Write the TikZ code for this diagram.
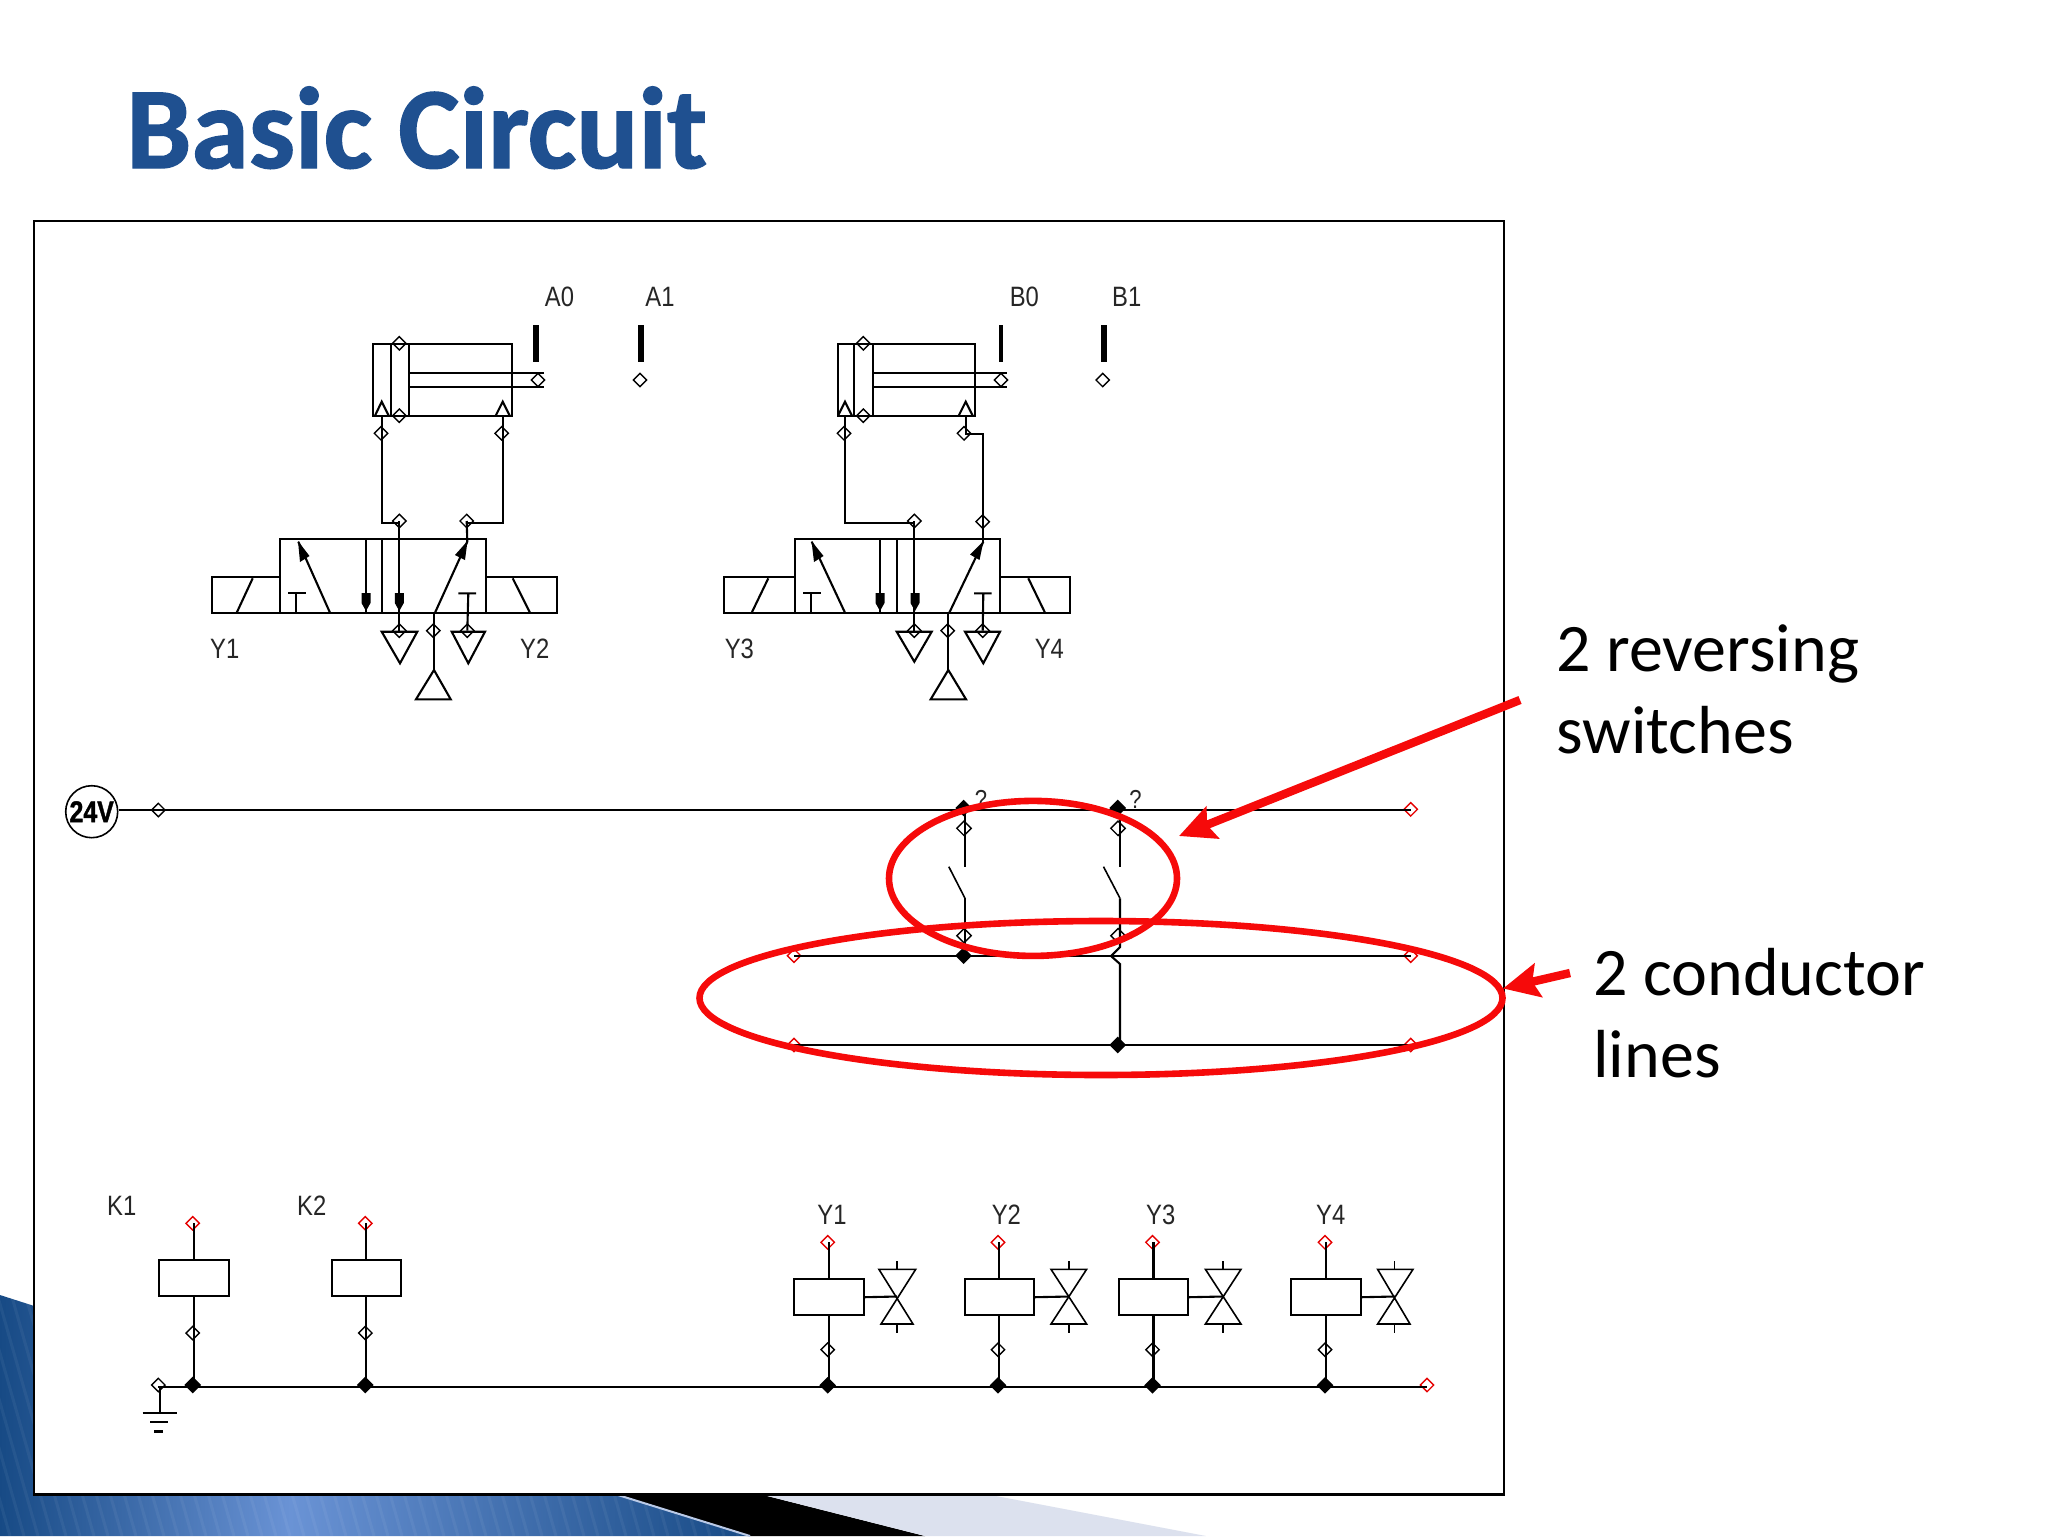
\documentclass[tikz,border=0pt]{standalone}
\usepackage{fontspec}
\usetikzlibrary{shapes.geometric,arrows.meta,calc}
\setmainfont{Liberation Sans}
\newfontfamily\carlito{Carlito}
\newfontfamily\carlitoheavy[FakeBold=1.2]{Carlito Bold}
\newfontfamily\supplyfont[FakeBold=1.5]{Liberation Sans Bold}
\definecolor{titleblue}{HTML}{1F5090}
\definecolor{navy}{HTML}{174A85}
\definecolor{midblue}{HTML}{6A93D5}
\definecolor{palegrey}{HTML}{DCE1EE}
\definecolor{redmark}{HTML}{F60A0A}
\tikzset{
  wire/.style={line width=1.05pt,black},
  port/.style={diamond,draw=black,line width=0.7pt,inner sep=0pt,minimum size=7pt},
  redport/.style={port,draw=red!90!black},
  junct/.style={diamond,fill=black,inner sep=0pt,minimum size=8.5pt},
  bar/.style={fill=black},
  lab/.style={inner sep=0pt,font=\fontsize{14}{16}\selectfont,xscale=0.85,black!85},
  coil/.style={draw=black,line width=1.05pt,inner sep=0pt,minimum width=34.6pt,minimum height=18.1pt},
  head/.style={fill=black},
  ring/.style={draw=redmark,line width=3.3pt},
  callout/.style={draw=redmark,line width=4.2pt,-{Stealth[length=18pt,width=17pt,inset=3pt]}},
  sidetext/.style={inner sep=0pt,anchor=base west,font=\carlito\fontsize{34}{41}\selectfont,black}
}
\begin{document}
\begin{tikzpicture}[x=0.5pt,y=-0.5pt]
\useasboundingbox (0,0) rectangle (2048,1536);
\fill[white] (0,0) rectangle (2048,1536);
% slide decoration
\begin{scope}
  \clip (0,1295) -- (750,1536) -- (0,1536) -- cycle;
  \shade[left color=navy,right color=midblue] (0,1290) rectangle (290,1536);
  \shade[left color=midblue,right color=navy] (290,1290) rectangle (750,1536);
  \foreach \i in {-60,-46,...,760}{
    \draw[white,opacity=0.05,line width=1.5pt] (\i,1290) -- ({\i+70},1536);
  }
\end{scope}
\fill[black] (582,1484) -- (750,1536) -- (925,1536) -- (720,1484) -- cycle;
\fill[palegrey] (720,1484) -- (925,1536) -- (1206,1536) -- (933,1484) -- cycle;
\draw[palegrey!70!midblue,line width=1pt] (618,1495) -- (750,1536);
% frame
\node[draw=black,fill=white,line width=1.1pt,inner sep=0pt,minimum width=735pt,minimum height=636.7pt,anchor=north west] (frame) at (33,220) {};
% title
\node[inner sep=0pt,anchor=base west,text=titleblue,font=\carlitoheavy\fontsize{58}{62}\selectfont] (title) at (126,168) {Basic Circuit};

% ---------- cylinder A
\draw[wire] (372.7,344) rectangle (511.7,415.7);
\draw[wire] (391,344) -- (391,415.7) (409.3,344) -- (409.3,415.7);
\draw[wire] (409.3,372.7) -- (544,372.7) (409.3,386.7) -- (544,386.7);
\draw[wire] (375,415.7) -- (381.7,401.7) -- (388.7,415.7) (495.7,415.7) -- (502.7,401.7) -- (509.7,415.7);
\node[port] (atop) at (399.3,343.3) {};
\node[port] (abot) at (399.3,415.7) {};
\node[port] (arod) at (538,380) {};
\node[port] (aend) at (640,380) {};
\fill[bar] (533.3,325) rectangle (539.3,361.7);
\fill[bar] (637.5,325) rectangle (644,361.7);
\node[lab] (lA0) at (559.5,297) {A0};
\node[lab] (lA1) at (660,297) {A1};
\node[port] (pa1) at (381,433.3) {};
\node[port] (pa2) at (501.7,433.3) {};
\node[port] (va1) at (399.3,521) {};
\node[port] (va2) at (466.7,521) {};
\draw[wire] (381.7,415.7) -- (381.7,522.7) -- (399.3,522.7);
\draw[wire] (502.7,415.7) -- (502.7,522.7) -- (466.7,522.7);
% ---------- valve A
\draw[wire] (280,539.3) rectangle (486,612.7);
\draw[wire] (382.3,539.3) -- (382.3,612.7);
\draw[wire] (280,577.3) -- (211.7,577.3) -- (211.7,612.7) -- (280,612.7);
\draw[wire] (486,577.3) -- (556.7,577.3) -- (556.7,612.7) -- (486,612.7);
\draw[wire] (236.7,612.7) -- (252.7,578.3) (512.7,578.3) -- (530,612.7);
\draw[wire] (330,612.7) -- (298.3,541.7);
\fill[head] (298,541) -- (309.5,556) -- (300,562) -- cycle;
\draw[wire] (296,612.7) -- (296,593.3) (288.3,593.3) -- (306,593.3);
\draw[wire] (366,539.3) -- (366,612.7);
\fill[head] (361.5,593) rectangle (370.5,603) (361.5,603) -- (370.5,603) -- (366,611) -- cycle;
\fill[head] (394.8,593) rectangle (403.8,603) (394.8,603) -- (403.8,603) -- (399.3,611) -- cycle;
\node[port] (ea1) at (399.3,630.7) {};
\node[port] (ea2) at (467.3,630.7) {};
\node[port] (ea0) at (433.3,630.7) {};
\draw[wire] (va1.center) -- (ea1.center);
\draw[wire] (va2.center) -- (467.3,541.7) -- (435,612.7);
\fill[head] (467.5,541) -- (465,560) -- (455,555) -- cycle;
\draw[wire] (468.3,593.3) -- (ea2.center) (458.3,593.3) -- (476,593.3);
\draw[wire] (381.7,631.7) -- (417.3,631.7) -- (400,663.3) -- cycle;
\draw[wire] (451.7,631.7) -- (485,631.7) -- (468.3,663.3) -- cycle;
\draw[wire] (434,612.7) -- (434,670);
\draw[wire] (434,670) -- (416,699.3) -- (450.7,699.3) -- cycle;
\node[lab] (lY1a) at (224.7,649) {Y1};
\node[lab] (lY2a) at (534.7,649) {Y2};

% ---------- cylinder B
\draw[wire] (837.7,344) rectangle (975,415.7);
\draw[wire] (854.3,344) -- (854.3,415.7) (872.7,344) -- (872.7,415.7);
\draw[wire] (872.7,372.7) -- (1006.7,372.7) (872.7,386.7) -- (1006.7,386.7);
\draw[wire] (838,415.7) -- (845,401.7) -- (852,415.7) (958.7,415.7) -- (965.7,401.7) -- (972.7,415.7);
\node[port] (btop) at (863.3,343.3) {};
\node[port] (bbot) at (863.3,415.7) {};
\node[port] (brod) at (1001,380) {};
\node[port] (bend) at (1102.7,380) {};
\fill[bar] (998.7,325) rectangle (1002.7,361.7);
\fill[bar] (1100.5,325) rectangle (1107,361.7);
\node[lab] (lB0) at (1024.3,297) {B0};
\node[lab] (lB1) at (1126.7,297) {B1};
\node[port] (pb1) at (964,433.3) {};
\node[port] (pb0) at (844,433.3) {};
\node[port] (vb1) at (914.3,521) {};
\node[port] (vb2) at (982.7,521.7) {};
\draw[wire] (845,415.7) -- (845,522.7) -- (914.3,522.7);
\draw[wire] (965.7,415.7) -- (965.7,434) -- (983.3,434) -- (983.3,541.7);
% ---------- valve B
\draw[wire] (795,539.3) rectangle (1000,612.7);
\draw[wire] (897.3,539.3) -- (897.3,612.7);
\draw[wire] (795,577.3) -- (724.3,577.3) -- (724.3,612.7) -- (795,612.7);
\draw[wire] (1000,577.3) -- (1070,577.3) -- (1070,612.7) -- (1000,612.7);
\draw[wire] (751.7,612.7) -- (768.3,578.3) (1028.3,578.3) -- (1045,612.7);
\draw[wire] (845,612.7) -- (811.7,541.7);
\fill[head] (811.5,541) -- (823.5,556) -- (814,562) -- cycle;
\draw[wire] (811,612.7) -- (811,593.3) (803.3,593.3) -- (820.7,593.3);
\draw[wire] (880,539.3) -- (880,612.7);
\fill[head] (875.5,593) rectangle (884.5,603) (875.5,603) -- (884.5,603) -- (880,611) -- cycle;
\fill[head] (910.5,593) rectangle (919.5,603) (910.5,603) -- (919.5,603) -- (915,611) -- cycle;
\node[port] (eb1) at (914.3,630.7) {};
\node[port] (eb2) at (982.7,630.7) {};
\node[port] (eb0) at (947.7,630.7) {};
\draw[wire] (vb1.center) -- (eb1.center);
\draw[wire] (983.3,541.7) -- (949.3,612.7);
\fill[head] (983.5,541) -- (979.5,560) -- (970,554.5) -- cycle;
\draw[wire] (983.3,593.3) -- (eb2.center) (974,593.3) -- (991.7,593.3);
\draw[wire] (896.7,631.7) -- (931.7,631.7) -- (914.3,661.7) -- cycle;
\draw[wire] (965,631.7) -- (1000,631.7) -- (983.3,663.3) -- cycle;
\draw[wire] (948.3,612.7) -- (948.3,670);
\draw[wire] (948.3,670) -- (930.7,699.3) -- (966,699.3) -- cycle;
\node[lab] (lY3a) at (739.3,649) {Y3};
\node[lab] (lY4a) at (1049.3,649) {Y4};

% ---------- supply rail
\node[circle,draw=black,line width=0.8pt,inner sep=0pt,minimum size=26pt] (sup) at (91.7,811.7) {};
\node[inner sep=0pt,xscale=0.83,font=\supplyfont\fontsize{15}{16}\selectfont] (suplab) at (91.7,811.7) {24V};
\node[port] (sp) at (158.3,810) {};
\node[redport] (se) at (1410.7,809.3) {};
\draw[wire] (sup.east |- 0,810.4) -- (1410.7,810.4);
\node[junct] (j1) at (963.6,808) {};
\node[junct] (j2) at (1117.7,808) {};
\node[lab,font=\fontsize{13}{15}\selectfont] (q1) at (981,799) {?};
\node[lab,font=\fontsize{13}{15}\selectfont] (q2) at (1135.5,799) {?};
\node[port,minimum size=7.5pt] (s1t) at (964,828.3) {};
\node[port,minimum size=7.5pt] (s2t) at (1118,828.3) {};
\node[port,minimum size=7.5pt] (s1b) at (964,935.7) {};
\node[port,minimum size=7.5pt] (s2b) at (1118,935.7) {};
\coordinate (s1a) at (965,866.7);
\coordinate (s2a) at (1120,866.7);
\coordinate (s1c) at (965,898.3);
\coordinate (s2c) at (1120,898.3);
\draw[wire] (965,810.4) -- (s1a);
\draw[wire] (1120,810.4) -- (s2a);
\draw[wire,line width=0.8pt] (948.8,866.7) -- (s1c);
\draw[wire,line width=0.8pt] (1103.5,866.7) -- (s2c);
\draw[wire] (s1c) -- (965,955.7);
\draw[wire] (s2c) -- (1120,947) -- (1111,956) -- (1120,964) -- (1120,1046);
% ---------- conductor lines
\node[redport] (c1l) at (794,955.7) {};
\node[redport] (c1r) at (1410.7,955.7) {};
\node[redport] (c2l) at (794,1045) {};
\node[redport] (c2r) at (1410.7,1045) {};
\node[junct] (j3) at (963.6,955.7) {};
\node[junct] (j4) at (1117.7,1045) {};
\draw[wire] (c1l.center) -- (c1r.center);
\draw[wire] (c2l.center) -- (c2r.center);

% ---------- bottom rail
\node[port] (gp) at (158.3,1385) {};
\node[redport] (re) at (1427,1385) {};
\draw[wire] (gp.center |- 0,1386.7) -- (1427,1386.7);
\draw[wire] (159.7,1386.7) -- (159.7,1412.7);
\draw[wire] (142.7,1412.7) -- (176.7,1412.7) (150,1422) -- (167.7,1422);
\draw[wire,line width=1.2pt] (154.3,1431.3) -- (163.3,1431.3);
% relay coils
\foreach \nm/\lbl/\bx/\dx/\lx in {k1/K1/194/192.7/121.7,k2/K2/366.3/365.3/311.7}{
  \node[redport] (\nm t) at (\dx,1223.3) {};
  \node[port] (\nm b) at (\dx,1333) {};
  \node[junct] (\nm j) at (\dx,1385) {};
  \node[coil] (\nm c) at (\bx,1278.2) {};
  \node[lab] (\nm l) at (\lx,1205.8) {\lbl};
  \draw[wire] (\nm c.north) -- (\nm c.north |- \nm t.center);
  \draw[wire] (\nm c.south) -- (\nm c.south |- 0,1386.7);
}
% solenoid coils
\foreach \nm/\lbl/\dx/\bx/\vx/\tla/\tra/\bla/\bra/\lx in {
  a/Y1/827.7/829/897/878.9/915.7/881/913/832,
  b/Y2/998/999.2/1069.2/1051/1086.6/1051/1086.6/1006.4,
  c/Y3/1152.5/1153.5/1223.2/1205.4/1241/1205.4/1241/1160.7,
  d/Y4/1325/1326/1394.5/1377.6/1413/1377.6/1410/1330.7}{
  \node[redport] (\nm t) at (\dx,1242.3) {};
  \node[port] (\nm b) at (\dx,1349.7) {};
  \node[junct] (\nm j) at (\dx,1385.3) {};
  \node[coil] (\nm c) at (\bx,1297.2) {};
  \node[lab] (\nm l) at (\lx,1215) {\lbl};
  \coordinate (\nm x) at (\vx,1296.5);
  \draw[wire] (\nm c.north) -- (\nm c.north |- \nm t.center);
  \draw[wire] (\nm c.south) -- (\nm c.south |- 0,1386.7);
  \draw[wire] (\nm c.east) -- (\nm x);
  \draw[wire,line width=0.8pt] (\tla,1269.3) -- (\tra,1269.3) -- (\bla,1324) -- (\bra,1324) -- cycle;
  \draw[wire,line width=0.8pt] (\vx,1261) -- (\vx,1269.3) (\vx,1324) -- (\vx,1333);
}
% ---------- red annotations
\node[ellipse,ring,inner sep=0pt,minimum width=401.5pt,minimum height=77pt] (big) at (1101,998) {};
\node[ellipse,ring,inner sep=0pt,minimum width=144pt,minimum height=77.5pt] (small) at (1033,878.4) {};
\coordinate (t1) at (1520,700);
\coordinate (h1) at (1179,836);
\coordinate (t2) at (1570,973);
\coordinate (h2) at (1503,988.5);
\draw[callout] (t1) -- (h1);
\draw[callout] (t2) -- (h2);
\node[sidetext,align=left] (txt1) at (1556,753.3) {2 reversing\\switches};
\node[sidetext,align=left] (txt2) at (1593,1077.3) {2 conductor\\lines};
\end{tikzpicture}
\end{document}
